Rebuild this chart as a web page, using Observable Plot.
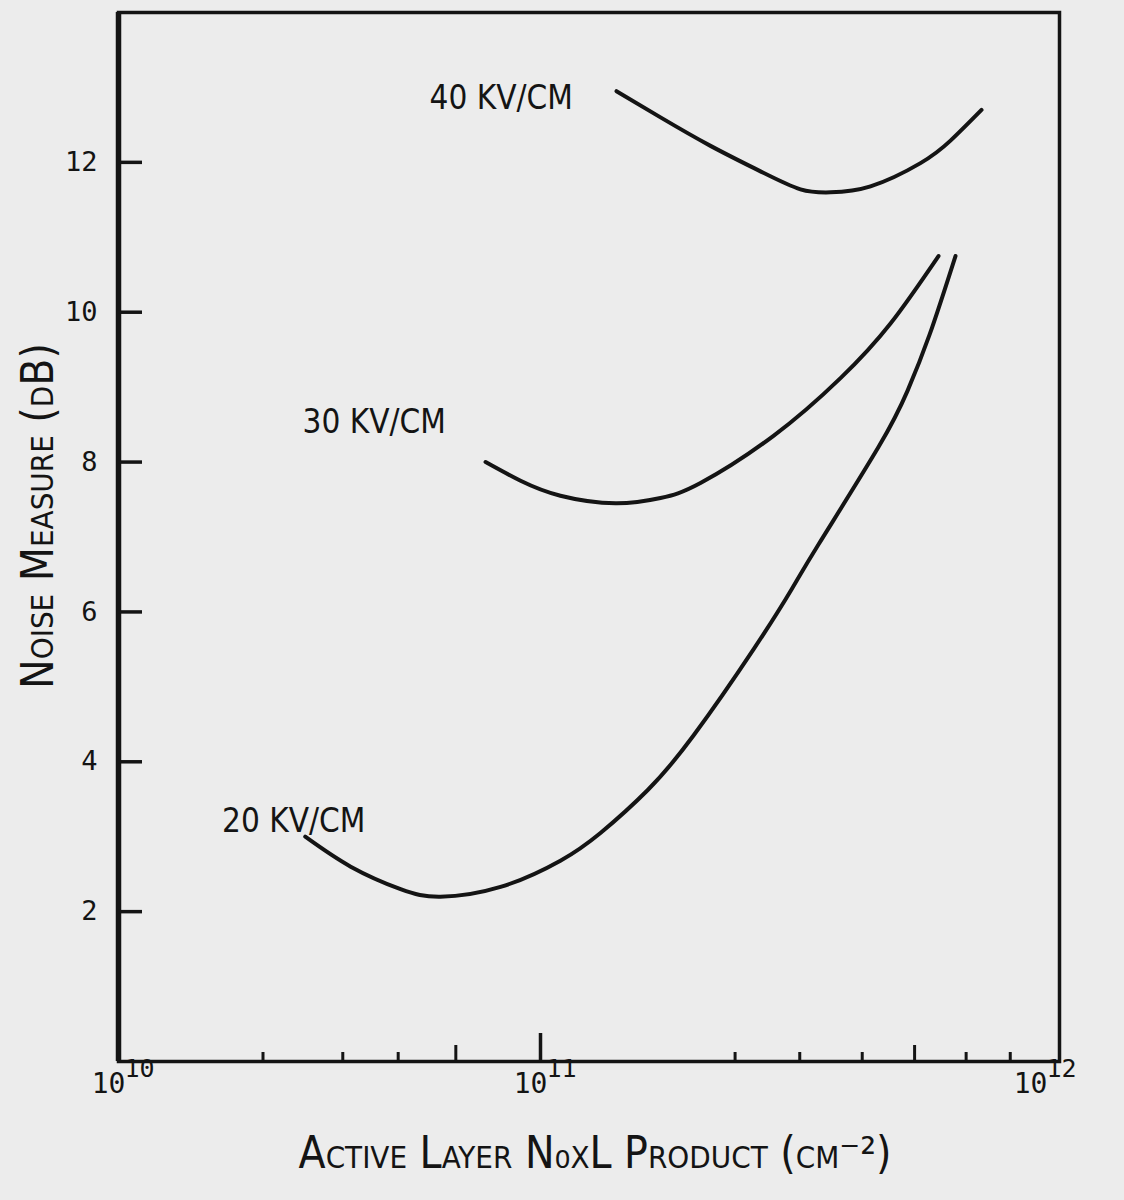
<!DOCTYPE html>
<html><head><meta charset="utf-8">
<script src="https://cdn.jsdelivr.net/npm/d3@7"></script>
<script src="https://cdn.jsdelivr.net/npm/@observablehq/plot@0.6"></script>
<style>
html,body{margin:0;padding:0;background:#ececec;}
#chart svg{display:block;}
</style></head><body><div id="chart"></div>
<script>
// ---- data ----
const fields = ["20 KV/CM", "30 KV/CM", "40 KV/CM"];

const nxl20 = [2.77e10, 3.55e10, 4.66e10, 5.79e10, 8.04e10, 1.096e11, 1.318e11, 1.637e11, 2.023e11, 2.667e11, 3.177e11, 3.597e11, 4.742e11, 5.42e11, 6.0e11, 6.761e11];
const nm20  = [3.0, 2.6, 2.3, 2.2, 2.33, 2.68, 3.05, 3.62, 4.35, 5.5, 6.3, 6.9, 8.2, 8.95, 9.7, 10.75];

const nxl30 = [7.41e10, 8.97e10, 1.096e11, 1.413e11, 1.738e11, 2.089e11, 2.924e11, 3.981e11, 5.012e11, 6.252e11];
const nm30  = [8.0, 7.75, 7.55, 7.45, 7.52, 7.72, 8.35, 9.12, 9.85, 10.75];

const nxl40 = [1.419e11, 1.738e11, 2.188e11, 2.754e11, 3.311e11, 3.802e11, 4.571e11, 5.754e11, 6.607e11, 7.621e11];
const nm40  = [12.95, 12.6, 12.22, 11.88, 11.64, 11.6, 11.68, 11.99, 12.29, 12.7];

// curve label anchors (data units)
const labelNxl = [1.76e10, 2.73e10, 5.46e10];
const labelNm  = [3.2, 8.53, 12.85];

const yTicks = [2, 4, 6, 8, 10, 12];
const xDecades = [1e10, 1e11, 1e12];
const xMinorTicks = [2.2e10, 3.4e10, 4.6e10, 2.45e11, 3.3e11, 4.4e11, 7.1e11, 8.7e11];
const xMediumTicks = [6.3e10, 5.6e11];
const xMajorTicks = [1e11];

const yTitle = "Noise Measure (dB)";
const xTitle = "Active Layer N\u2080xL Product (cm\u207B\u00B2)";

// ---- build tables ----
const series = [[nxl20, nm20], [nxl30, nm30], [nxl40, nm40]];
const rows = series.flatMap(([xs, ys], i) => xs.map((x, j) => ({field: fields[i], nxl: x, nm: ys[j]})));
const labels = fields.map((f, i) => ({field: f, nxl: labelNxl[i], nm: labelNm[i]}));

const ink = "#141414";
const condensed = "'DejaVu Sans Condensed', 'Liberation Sans Narrow', sans-serif";
const mono = "'DejaVu Sans Mono', monospace";

const chart = Plot.plot({
  width: 1124, height: 1200,
  marginTop: 12, marginBottom: 139, marginLeft: 118, marginRight: 65,
  style: {background: "#ececec", color: ink},
  x: {type: "log", domain: [1e10, 1e11, 1e12], range: [118, 540, 1040], axis: null},
  y: {domain: [0, 14], axis: null},
  marks: [
    Plot.frame({stroke: ink, strokeWidth: 3.5}),
    Plot.ruleX(xDecades.slice(0, 1), {stroke: ink, strokeWidth: 5.5}),
    Plot.axisY(yTicks, {anchor: "left", tickSize: -24, tickPadding: 45, strokeWidth: 3.5, stroke: ink,
      tickFormat: d => String(d), fontSize: 27, fontFamily: mono, fill: ink, label: null}),
    Plot.axisX(xMinorTicks, {anchor: "bottom", tickSize: -9, strokeWidth: 3, stroke: ink, tickFormat: () => "", label: null}),
    Plot.axisX(xMediumTicks, {anchor: "bottom", tickSize: -16, strokeWidth: 3, stroke: ink, tickFormat: () => "", label: null}),
    Plot.axisX(xMajorTicks, {anchor: "bottom", tickSize: -28, strokeWidth: 3.5, stroke: ink, tickFormat: () => "", label: null}),
    Plot.text(xDecades, {x: d => d, frameAnchor: "bottom", text: () => "10", dx: -10, dy: 31, fontSize: 28, fontFamily: mono, fill: ink}),
    Plot.text(xDecades, {x: d => d, frameAnchor: "bottom", text: d => String(Math.round(Math.log10(d))), textAnchor: "start", dx: 6, dy: 15, fontSize: 25, fontFamily: mono, fill: ink}),
    Plot.line(rows, {x: "nxl", y: "nm", z: "field", curve: "natural", stroke: ink, strokeWidth: 4, strokeLinecap: "round"}),
    Plot.text(labels, {x: "nxl", y: "nm", text: "field", textAnchor: "start", fontSize: 33, fontFamily: condensed, fill: ink}),
    Plot.text([yTitle], {frameAnchor: "left", text: d => d, textAnchor: "middle", rotate: -90, dx: -80, dy: -21, fontSize: 44, letterSpacing: 2.5, fontFamily: condensed, fontVariant: "small-caps", fill: ink}),
    Plot.text([xTitle], {frameAnchor: "bottom", text: d => d, dx: 6, dy: 106, fontSize: 44, fontFamily: condensed, fontVariant: "small-caps", fill: ink})
  ]
});
document.getElementById("chart").append(chart);
</script></body></html>
